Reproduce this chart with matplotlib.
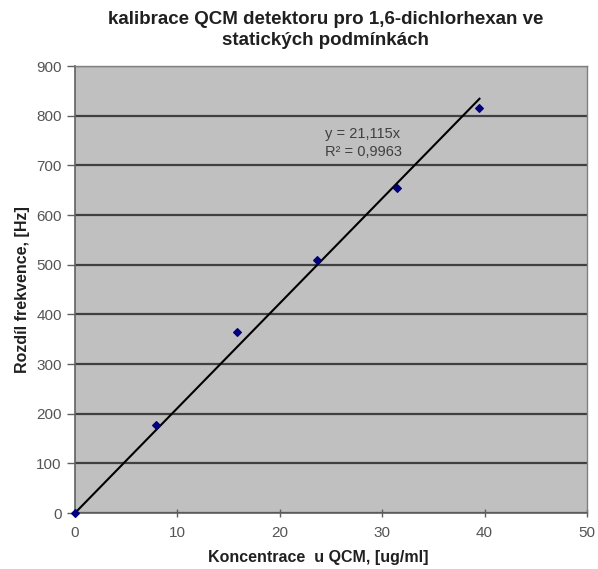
import matplotlib

matplotlib.use("Agg")

import matplotlib.pyplot as plt
import numpy as np

plt.rcParams["font.family"] = ["Liberation Sans", "DejaVu Sans"]

# measured points
koncentrace = [0, 7.9, 15.8, 23.6, 31.4, 39.5]
rozdil_frekvence = [0, 177, 364, 509, 655, 816]
slope = 21.115

x_ticks = [0, 10, 20, 30, 40, 50]
y_ticks = [0, 100, 200, 300, 400, 500, 600, 700, 800, 900]

fig = plt.figure(figsize=(5.98, 5.69), dpi=100)
ax = fig.add_axes([0.1254, 0.0984, 0.8562, 0.7856])
ax.set_facecolor("#c0c0c0")

# trendline through origin
xl = np.array([0, max(koncentrace)])
ax.plot(xl, slope * xl, color="black", linewidth=1.5, zorder=3)
ax.scatter(koncentrace, rozdil_frekvence, marker="D", s=15, color="#000080",
           zorder=4, clip_on=False)

ax.set_xlim(0, 50)
ax.set_ylim(0, 900)
ax.set_xticks(x_ticks)
ax.set_yticks(y_ticks)
ax.yaxis.grid(True, color="#404040", linewidth=1.6)
ax.set_axisbelow(True)

for side in ["top", "right"]:
    ax.spines[side].set_color("#808080")
    ax.spines[side].set_linewidth(1.0)
for side in ["left", "bottom"]:
    ax.spines[side].set_color("#606060")
    ax.spines[side].set_linewidth(1.2)

ax.tick_params(axis="both", colors="#606060", labelcolor="#555555", labelsize=11,
               length=6, width=1)
ax.tick_params(axis="x", direction="inout", length=6, pad=6)

ax.text(24.4, 745, "y = 21,115x\nR² = 0,9963", fontsize=10.5, color="#404040",
        linespacing=1.3, va="center")

fig.text(0.544, 1 - 30 / 569,
         "kalibrace QCM detektoru pro 1,6-dichlorhexan ve\nstatických podmínkách",
         fontsize=13.5, fontweight="bold", color="#202020", ha="center", va="center",
         linespacing=1.28)
ax.set_xlabel("Koncentrace  u QCM, [ug/ml]", fontsize=11.5, fontweight="bold",
              color="#202020", va="center")
ax.xaxis.set_label_coords(0.475, -0.10)
ax.set_ylabel("Rozdíl frekvence, [Hz]", fontsize=11.5, fontweight="bold",
              color="#202020", va="center")
ax.yaxis.set_label_coords(-0.1016, 0.5)

plt.savefig("out.png", dpi=100)
plt.close()
